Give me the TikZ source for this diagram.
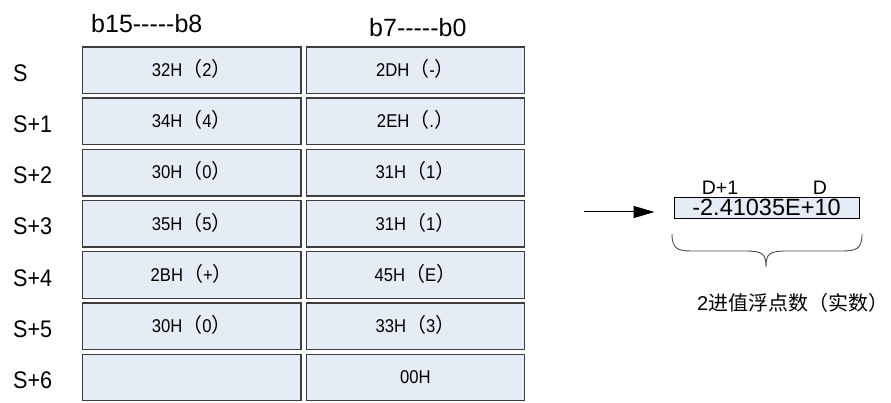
\documentclass[tikz,border=0pt]{standalone}
\usepackage{fontspec}
\setmainfont{Liberation Sans}[Ligatures=TeXOff]
\newfontfamily\narrowf{Liberation Sans}[Ligatures=TeXOff,FakeStretch=0.9]
\newfontfamily\cjk{Noto Sans CJK SC}
\usetikzlibrary{arrows.meta}
\definecolor{cellfill}{RGB}{230,236,246}
\definecolor{celledge}{RGB}{62,62,62}
\newcommand\myLP{{\cjk\fontsize{20}{20}\selectfont （}}
\newcommand\myRP{{\cjk\fontsize{20}{20}\selectfont ）}}
\begin{document}
\begin{tikzpicture}[x=1pt,y=-1pt,
  cell/.style={draw=celledge, line width=1.4pt, fill=cellfill, rectangle,
    minimum width=218.5pt, minimum height=46.5pt, inner sep=0pt,
    text height=12.5pt, text depth=0pt, font=\narrowf\fontsize{18.5}{18.5}\selectfont},
  rowlab/.style={anchor=west, inner sep=0pt, text height=17pt, text depth=0pt,
    font=\narrowf\fontsize{24}{24}\selectfont},
  head/.style={anchor=base west, inner sep=0pt, font=\fontsize{25}{25}\selectfont},
  dlab/.style={anchor=base, inner sep=0pt, font=\fontsize{19.5}{19.5}\selectfont},
  resbox/.style={draw=black, line width=0.9pt, fill=cellfill, rectangle,
    minimum width=185pt, minimum height=21pt, inner sep=0pt,
    text height=16.5pt, text depth=0pt, font=\fontsize{23.5}{23.5}\selectfont},
  conn/.style={line width=1pt, -{Triangle[length=21pt,width=12pt]}}
]
\path[use as bounding box] (0,0) rectangle (891,403);

\node[head] (h1) at (91,33) {b15-----b8};
\node[head] (h2) at (369,37) {b7-----b0};

\foreach \k/\lab/\lt/\rt in {
  0/S/{32H\myLP 2\myRP}/{2DH\myLP -\myRP},
  1/S+1/{34H\myLP 4\myRP}/{2EH\myLP .\myRP},
  2/S+2/{30H\myLP 0\myRP}/{31H\myLP 1\myRP},
  3/S+3/{35H\myLP 5\myRP}/{31H\myLP 1\myRP},
  4/S+4/{2BH\myLP +\myRP}/{45H\myLP E\myRP},
  5/S+5/{30H\myLP 0\myRP}/{33H\myLP 3\myRP},
  6/S+6/{}/{00H}}{
  \pgfmathsetmacro\yc{70.25+51.2*\k}
  \node[cell] (L\k) at (191.75,\yc) {\lt};
  \node[cell] (R\k) at (415.5,\yc) {\rt};
  \node[rowlab] (lab\k) at (13,\yc+2.5) {\lab};
}

\node[resbox] (dbox) at (766.5,207.5) {-2.41035E+10};
\node[dlab] (d1) at (720,194.5) {D+1};
\node[dlab] (d0) at (820,194.5) {D};

\coordinate (astart) at (584,212);
\draw[conn, shorten >=19pt] (astart) -- (dbox.west |- astart);

\draw[line width=0.9pt, black!70] (672,234)
  .. controls (672,249) and (678,251) .. (692,251) -- (745,251)
  .. controls (763,251) and (766,254) .. (766,267)
  .. controls (766,254) and (769,251) .. (787,251) -- (842,251)
  .. controls (856,251) and (862,249) .. (862,234);

\node[anchor=west, inner sep=0pt, font=\fontsize{20}{20}\selectfont] (cap) at (697,303) {2{\cjk 进值浮点数（实数）}};
\end{tikzpicture}
\end{document}
